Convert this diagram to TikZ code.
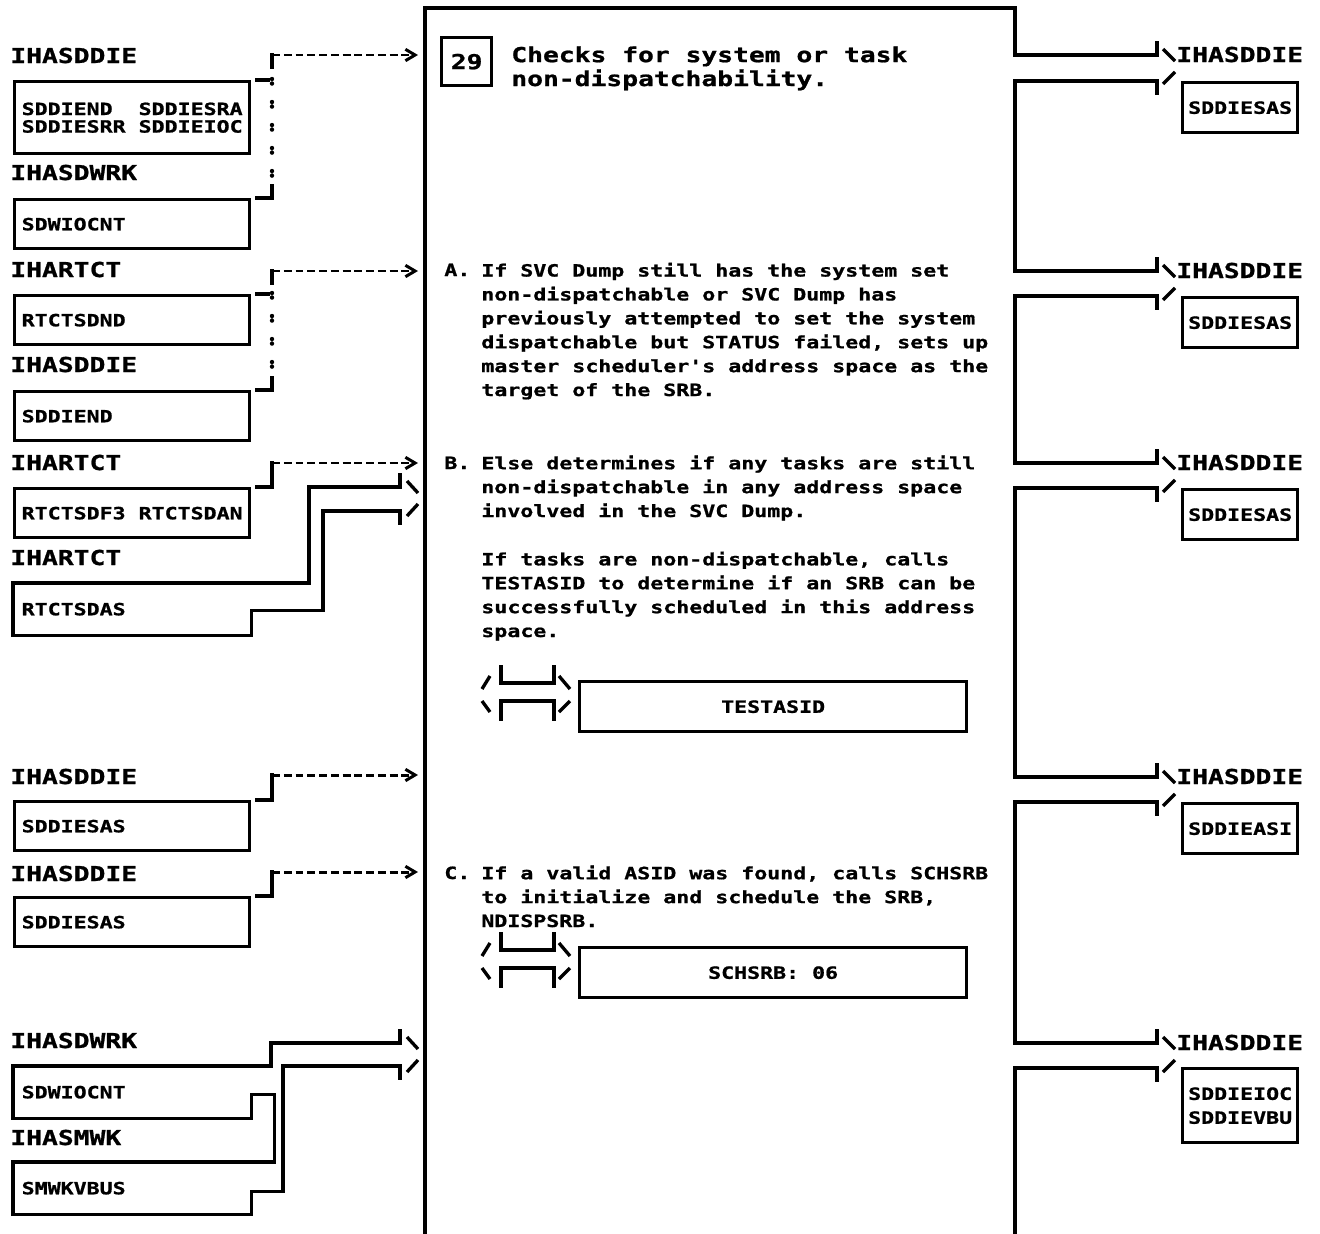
\documentclass[tikz,border=0pt]{standalone}
\usepackage{fontspec}
\newfontfamily\ibmfont[FakeStretch=1.28, BoldFeatures={FakeBold=1}]{DejaVu Sans Mono}
\usepackage{tikz}
\usetikzlibrary{arrows.meta,calc,positioning}
\tikzset{
  bigtxt/.style   = {font=\ibmfont\bfseries\fontsize{11.7}{13.6}\selectfont, inner sep=0pt},
  smalltxt/.style = {font=\ibmfont\bfseries\fontsize{9.6}{13.6}\selectfont, inner sep=0pt},
  para/.style     = {smalltxt, align=left, anchor=base west},
  lbox/.style     = {smalltxt, draw, line width=1.9pt, inner xsep=0.14cm, text width=4.42cm,
                     align=left, minimum height=0.98cm, anchor=north west},
  obox/.style     = {lbox, draw=none},
  rbox/.style     = {smalltxt, draw, line width=1.9pt, align=center, minimum width=2.3cm,
                     minimum height=1cm, anchor=north west},
  cbox/.style     = {smalltxt, draw, line width=1.9pt, minimum width=7.74cm,
                     minimum height=1cm, anchor=north west},
  wire/.style     = {line width=1.9pt, line cap=rect},
  slash/.style    = {line width=1.9pt},
  flow/.style     = {line width=1.7pt, dash pattern=on 4.5pt off 2.2pt,
                     -{Straight Barb[length=5.5pt,width=6.5pt]}},
  dotline/.style  = {line width=2.5pt, line cap=round,
                     dash pattern=on 0pt off 2.6pt on 0pt off 10.5pt},
}
\newcommand\chsp{\phantom{X}}
\newcommand\callmark[1]{%
  \begin{scope}[shift={(#1)}]
    \draw[slash] (0,22) -- (8,9);
    \draw[wire] (19,0) -- (19,16) -- (72,16) -- (72,0);
    \draw[slash] (77,9) -- (88,22);
    \draw[slash] (0,34) -- (8,45);
    \draw[wire] (19,52) -- (19,34) -- (72,34) -- (72,52);
    \draw[slash] (77,45) -- (88,34);
  \end{scope}}

\begin{document}
\begin{tikzpicture}[x=0.02cm,y=-0.02cm]
  \useasboundingbox (0,0) rectangle (1320,1234);

  % process frame, outputs on the right
  \draw[wire] (1157,43) -- (1157,55) -- (1015,55) -- (1015,8) -- (425,8) -- (425,1234);
  \foreach \l/\u in {81/271,296/463,488/777,802/1043}
    \draw[wire] (1157,\l+12) -- (1157,\l) -- (1015,\l) -- (1015,\u) -- (1157,\u) -- (1157,\u-12);
  \draw[wire] (1157,1080) -- (1157,1068) -- (1015,1068) -- (1015,1234);
  \foreach \u [count=\i] in {55,271,463,777,1043} {
    \draw[slash] (1163,\u-6) -- (1175,\u+6);
    \draw[slash] (1175,\u+17) -- (1163,\u+29);
    \node[bigtxt, anchor=base west] (out\i) at (1176,\u+7) {IHASDDIE};
  }
  \node[rbox] (r1) at (1181,81) {SDDIESAS};
  \node[rbox] (r2) at (1181,296) {SDDIESAS};
  \node[rbox] (r3) at (1181,488) {SDDIESAS};
  \node[rbox] (r4) at (1181,802) {SDDIEASI};
  \node[rbox, minimum height=1.48cm] (r5) at (1181,1067) {SDDIEIOC\\SDDIEVBU};

  % inputs on the left
  \node[bigtxt, anchor=base west] (l1) at (10,63) {IHASDDIE};
  \node[bigtxt, anchor=base west] (l2) at (10,180) {IHASDWRK};
  \node[bigtxt, anchor=base west] (l3) at (10,277) {IHARTCT};
  \node[bigtxt, anchor=base west] (l4) at (10,372) {IHASDDIE};
  \node[bigtxt, anchor=base west] (l5) at (10,470) {IHARTCT};
  \node[bigtxt, anchor=base west] (l6) at (10,565) {IHARTCT};
  \node[bigtxt, anchor=base west] (l7) at (10,784) {IHASDDIE};
  \node[bigtxt, anchor=base west] (l8) at (10,881) {IHASDDIE};
  \node[bigtxt, anchor=base west] (l9) at (10,1048) {IHASDWRK};
  \node[bigtxt, anchor=base west] (l10) at (10,1145) {IHASMWK};

  \node[lbox, minimum height=1.44cm] (b1) at (13,80)
    {\mbox{SDDIEND\chsp\chsp SDDIESRA}\\[-3.6pt]\mbox{SDDIESRR\chsp SDDIEIOC}};
  \node[lbox] (b2) at (13,198) {SDWIOCNT};
  \node[lbox] (b3) at (13,294) {RTCTSDND};
  \node[lbox] (b4) at (13,390) {SDDIEND};
  \node[lbox] (b5) at (13,487) {\mbox{RTCTSDF3\chsp RTCTSDAN}};
  \node[obox] (b6) at (13,583) {RTCTSDAS};
  \node[lbox] (b7) at (13,800) {SDDIESAS};
  \node[lbox] (b8) at (13,896) {SDDIESAS};
  \node[obox] (b9) at (13,1066) {SDWIOCNT};
  \node[obox] (b10) at (13,1162) {SMWKVBUS};

  \coordinate (in1) at (418,55);
  \coordinate (in2) at (418,271);
  \coordinate (in3) at (418,463);
  \coordinate (in4) at (418,775);
  \coordinate (in5) at (418,872);

  % dashed inputs
  \draw[wire] ($(b1.north east)+(5,0)$) -- +(12,0);
  \draw[wire] ($(b2.north east)+(5,0)$) -| (272,186);
  \draw[dotline] (272,79) -- (272,184);
  \draw[wire] (272,67) -- (272,55);
  \draw[flow] (272,55) -- (in1);

  \draw[wire] ($(b3.north east)+(5,0)$) -- +(12,0);
  \draw[wire] ($(b4.north east)+(5,0)$) -| (272,378);
  \draw[dotline] (272,293) -- (272,376);
  \draw[wire] (272,283) -- (272,271);
  \draw[flow] (272,271) -- (in2);

  \draw[wire] ($(b5.north east)+(5,0)$) -| (272,463);
  \draw[flow] (272,463) -- (in3);
  \draw[wire] ($(b7.north east)+(5,0)$) -| (272,775);
  \draw[flow] (272,775) -- (in4);
  \draw[wire] ($(b8.north east)+(5,0)$) -| (272,872);
  \draw[flow] (272,872) -- (in5);

  % wide inputs
  \draw[wire] (400,475) -- (400,487) -- (309,487) |- (b6.north west) -- (b6.south west)
    -- (b6.south east) -- ++(0,-25) -| (323,511) -- (400,511) -- (400,523);
  \draw[slash] (407,481) -- (418,493);
  \draw[slash] (418,504) -- (407,516);
  \draw[wire] (400,1031) -- (400,1043) -- (271,1043) |- (b9.north west) -- (b9.south west)
    -- (b9.south east) -- ++(0,-24) -- ++(23,0) |- (b10.north west) -- (b10.south west)
    -- (b10.south east) -- ++(0,-23) -| (283,1066) -- (400,1066) -- (400,1078);
  \draw[slash] (407,1037) -- (418,1049);
  \draw[slash] (418,1060) -- (407,1072);

  % process text (base = last line)
  \node[bigtxt, draw, line width=1.9pt, minimum width=1cm, minimum height=0.96cm,
        anchor=north west] (step29) at (440,36) {29};
  \node[bigtxt, align=left, anchor=base west] (title) at (511,86)
    {Checks for system or task\\non-dispatchability.};

  \node[para] (ka) at (444,276) {A.};
  \node[para] (ta) at (481,396) {If SVC Dump still has the system set\\
    non-dispatchable or SVC Dump has\\previously attempted to set the system\\
    dispatchable but STATUS failed, sets up\\master scheduler's address space as the\\
    target of the SRB.};
  \node[para] (kb) at (444,469) {B.};
  \node[para] (tb) at (481,517) {Else determines if any tasks are still\\
    non-dispatchable in any address space\\involved in the SVC Dump.};
  \node[para] (tb2) at (481,637) {If tasks are non-dispatchable, calls\\
    TESTASID to determine if an SRB can be\\successfully scheduled in this address\\
    space.};
  \callmark{482,667}
  \node[cbox] (testasid) at (578,680) {TESTASID};

  \node[para] (kc) at (444,879) {C.};
  \node[para] (tc) at (481,927) {If a valid ASID was found, calls SCHSRB\\
    to initialize and schedule the SRB,\\NDISPSRB.};
  \callmark{482,934}
  \node[cbox] (schsrb) at (578,946) {SCHSRB: 06};
\end{tikzpicture}
\end{document}
